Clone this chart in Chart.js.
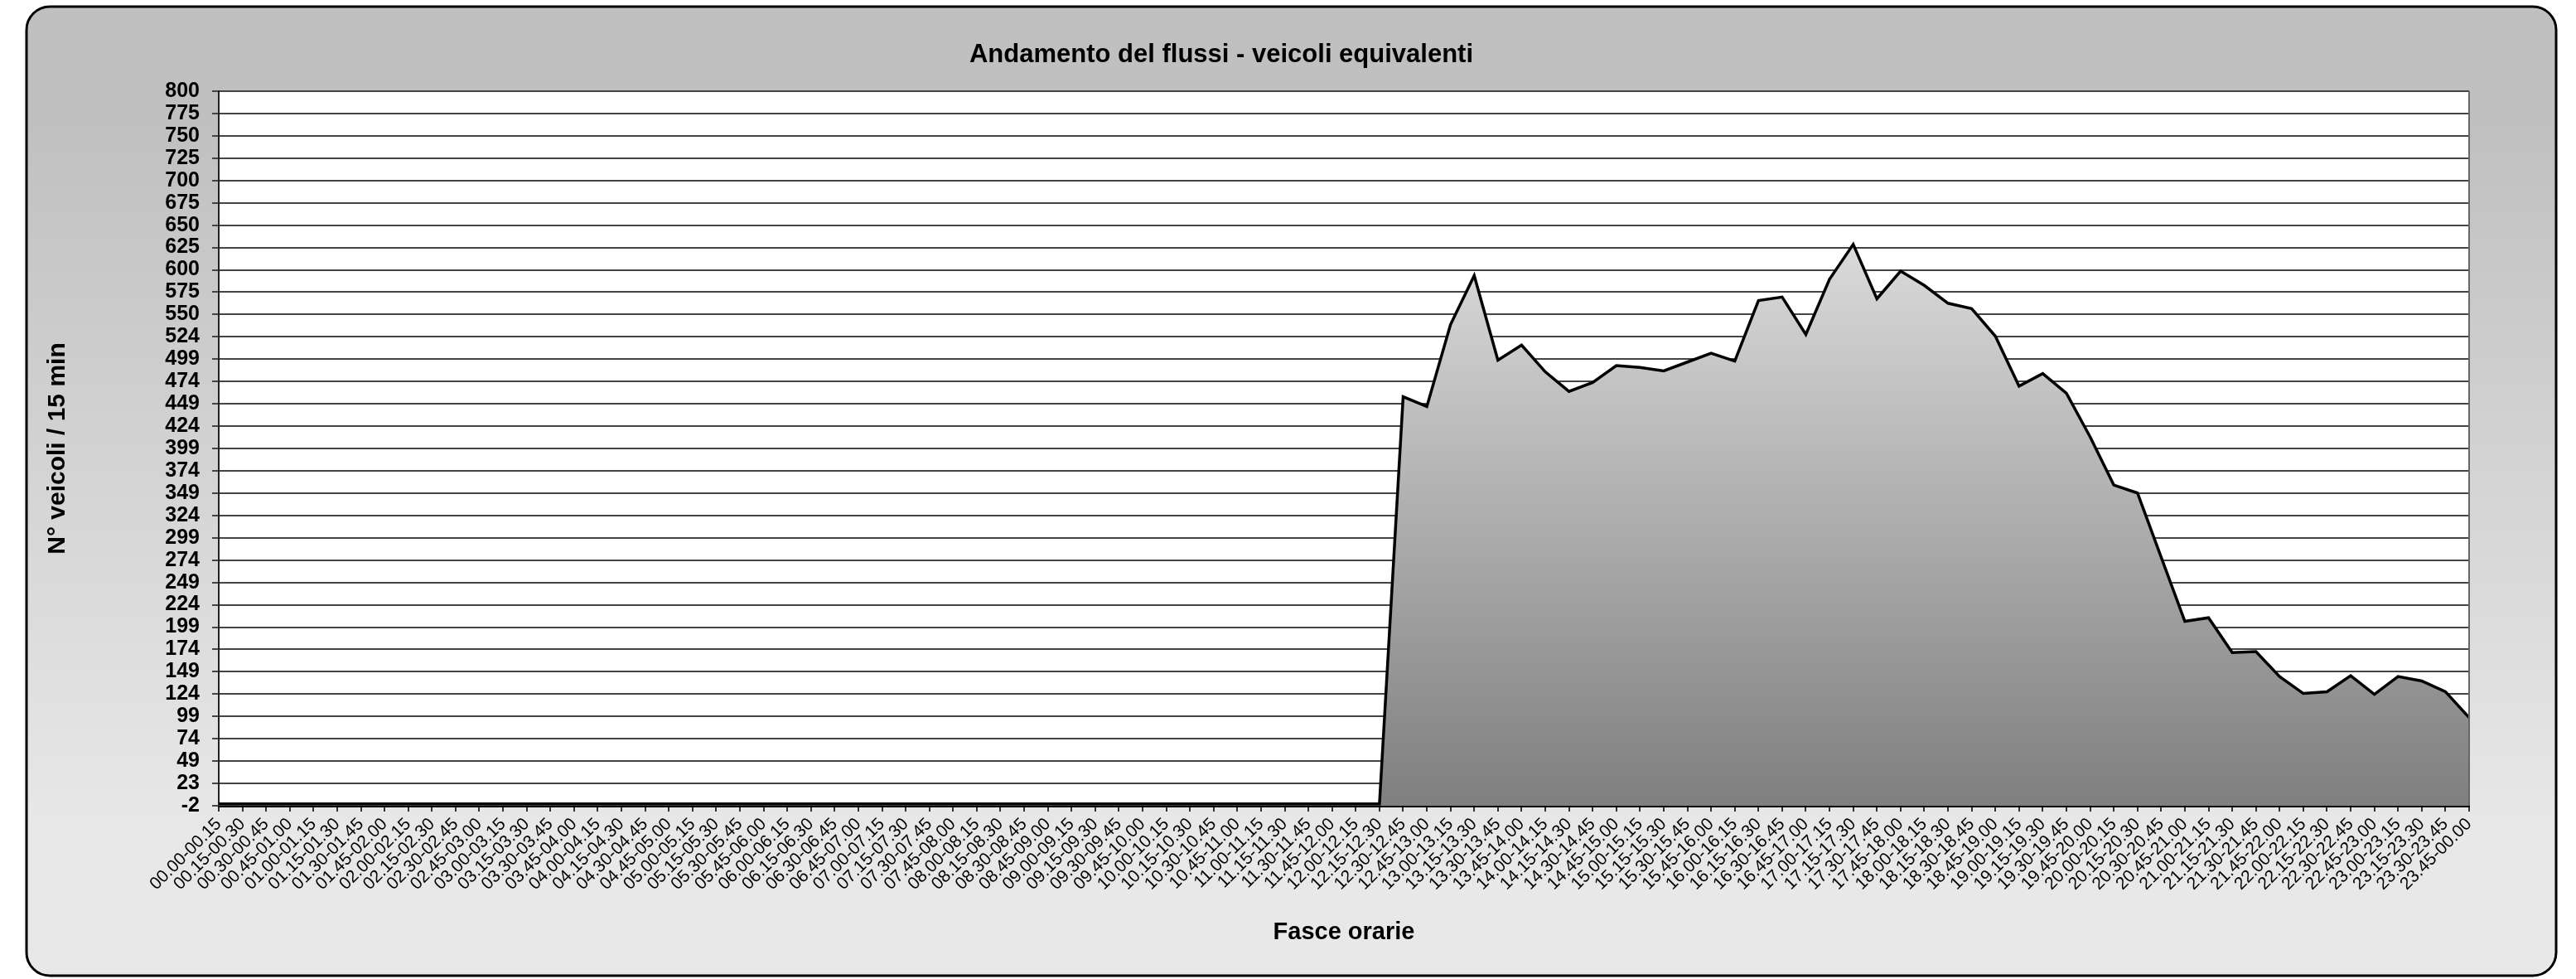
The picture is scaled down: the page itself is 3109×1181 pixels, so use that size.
<!DOCTYPE html>
<html>
<head>
<meta charset="utf-8">
<script src="https://cdn.jsdelivr.net/npm/chart.js@4.4.1/dist/chart.umd.min.js"></script>
<style>
html,body{margin:0;padding:0;background:#fff;}
canvas{display:block;}
</style>
</head>
<body>
<canvas id="c" width="3109" height="1181"></canvas>
<script>
const categories = [
"00.00-00.15","00.15-00.30","00.30-00.45","00.45-01.00","01.00-01.15","01.15-01.30","01.30-01.45","01.45-02.00",
"02.00-02.15","02.15-02.30","02.30-02.45","02.45-03.00","03.00-03.15","03.15-03.30","03.30-03.45","03.45-04.00",
"04.00-04.15","04.15-04.30","04.30-04.45","04.45-05.00","05.00-05.15","05.15-05.30","05.30-05.45","05.45-06.00",
"06.00-06.15","06.15-06.30","06.30-06.45","06.45-07.00","07.00-07.15","07.15-07.30","07.30-07.45","07.45-08.00",
"08.00-08.15","08.15-08.30","08.30-08.45","08.45-09.00","09.00-09.15","09.15-09.30","09.30-09.45","09.45-10.00",
"10.00-10.15","10.15-10.30","10.30-10.45","10.45-11.00","11.00-11.15","11.15-11.30","11.30-11.45","11.45-12.00",
"12.00-12.15","12.15-12.30","12.30-12.45","12.45-13.00","13.00-13.15","13.15-13.30","13.30-13.45","13.45-14.00",
"14.00-14.15","14.15-14.30","14.30-14.45","14.45-15.00","15.00-15.15","15.15-15.30","15.30-15.45","15.45-16.00",
"16.00-16.15","16.15-16.30","16.30-16.45","16.45-17.00","17.00-17.15","17.15-17.30","17.30-17.45","17.45-18.00",
"18.00-18.15","18.15-18.30","18.30-18.45","18.45-19.00","19.00-19.15","19.15-19.30","19.30-19.45","19.45-20.00",
"20.00-20.15","20.15-20.30","20.30-20.45","20.45-21.00","21.00-21.15","21.15-21.30","21.30-21.45","21.45-22.00",
"22.00-22.15","22.15-22.30","22.30-22.45","22.45-23.00","23.00-23.15","23.15-23.30","23.30-23.45","23.45-00.00"
];
const values = [
0,0,0,0,0,0,0,0, 0,0,0,0,0,0,0,0, 0,0,0,0,0,0,0,0, 0,0,0,0,0,0,0,0,
0,0,0,0,0,0,0,0, 0,0,0,0,0,0,0,0, 0,0,457,446,538,593,498,515,
485,463,473,492,490,486,496,506, 497,565,569,527,589,628,567,598,
582,562,556,525,469,483,461,412, 358,349,277,205,209,170,171,143,
124,126,144,123,143,138,126,97
];
const yTickLabels = ["-2","23","49","74","99","124","149","174","199","224","249","274","299","324","349","374","399","424","449","474","499","524","550","575","600","625","650","675","700","725","750","775","800"];
const yMin = -2, yMax = 800;
const titleText = "Andamento del flussi - veicoli equivalenti";
const xTitle = "Fasce orarie";
const yTitle = "N° veicoli / 15 min";

const FONT = "'Liberation Sans', Arial, sans-serif";

function roundRect(ctx, x, y, w, h, r) {
  ctx.beginPath();
  ctx.moveTo(x + r, y);
  ctx.lineTo(x + w - r, y);
  ctx.arcTo(x + w, y, x + w, y + r, r);
  ctx.lineTo(x + w, y + h - r);
  ctx.arcTo(x + w, y + h, x + w - r, y + h, r);
  ctx.lineTo(x + r, y + h);
  ctx.arcTo(x, y + h, x, y + h - r, r);
  ctx.lineTo(x, y + r);
  ctx.arcTo(x, y, x + r, y, r);
  ctx.closePath();
}

const bgPlugin = {
  id: 'bg',
  beforeDraw(chart) {
    const ctx = chart.ctx;
    const W = chart.width, H = chart.height;
    ctx.save();
    ctx.fillStyle = '#fff';
    ctx.fillRect(0, 0, W, H);
    const g = ctx.createLinearGradient(0, 8, 0, 1177);
    g.addColorStop(0, '#c0c0c0');
    g.addColorStop(0.12, '#c0c0c0');
    g.addColorStop(0.85, '#e8e8e8');
    g.addColorStop(1, '#e8e8e8');
    roundRect(ctx, 32, 8, 3053, 1169, 28);
    ctx.fillStyle = g;
    ctx.fill();
    ctx.lineWidth = 3;
    ctx.strokeStyle = '#000';
    ctx.stroke();
    const a = chart.chartArea;
    ctx.fillStyle = '#fff';
    ctx.fillRect(a.left, a.top, a.right - a.left, a.bottom - a.top);
    // chart title
    ctx.fillStyle = '#000';
    ctx.font = "bold 31px " + FONT;
    ctx.textAlign = 'center';
    ctx.textBaseline = 'middle';
    ctx.fillText(titleText, 1474, 66);
    ctx.restore();
  },
  afterDraw(chart) {
    const ctx = chart.ctx;
    const a = chart.chartArea;
    ctx.save();
    ctx.strokeStyle = '#666';
    ctx.lineWidth = 2;
    ctx.beginPath();
    ctx.moveTo(a.right, a.top);
    ctx.lineTo(a.right, a.bottom);
    ctx.stroke();
    ctx.restore();
  }
};

new Chart(document.getElementById('c'), {
  type: 'line',
  data: {
    labels: categories,
    datasets: [{
      data: values,
      borderColor: '#000',
      borderWidth: 3.5,
      pointRadius: 0,
      tension: 0,
      fill: 'start',
      backgroundColor: (context) => {
        const chart = context.chart;
        const a = chart.chartArea;
        if (!a) return '#bbbbbb';
        const top = chart.scales.y.getPixelForValue(Math.max(...values));
        const g = chart.ctx.createLinearGradient(0, top, 0, a.bottom);
        g.addColorStop(0, '#dadada');
        g.addColorStop(1, '#7f7f7f');
        return g;
      }
    }]
  },
  options: {
    responsive: false,
    animation: false,
    devicePixelRatio: 1,
    layout: { padding: { left: 0, right: 129, top: 110, bottom: 0 } },
    plugins: {
      legend: { display: false },
      tooltip: { enabled: false },
      title: { display: false }
    },
    scales: {
      x: {
        type: 'category',
        offset: false,
        grid: { drawOnChartArea: false, drawTicks: true, tickLength: 7, color: '#333', lineWidth: 2 },
        border: { display: true, color: '#000', width: 3 },
        ticks: {
          autoSkip: false, maxRotation: 45, minRotation: 45, padding: 3,
          color: '#000', font: { family: FONT, size: 21 }
        },
        title: {
          display: true, text: xTitle, color: '#000',
          font: { family: FONT, size: 29, weight: 'bold' },
          padding: { top: 0, bottom: 39 }
        },
        afterFit(scale) { scale.height = 209; }
      },
      y: {
        type: 'linear',
        min: yMin, max: yMax,
        afterBuildTicks(scale) {
          const n = yTickLabels.length - 1;
          scale.ticks = yTickLabels.map((t, i) => ({ value: yMin + i * (yMax - yMin) / n }));
        },
        grid: { drawOnChartArea: true, drawTicks: true, tickLength: 8, color: '#444', lineWidth: 2 },
        border: { display: true, color: '#222', width: 2 },
        ticks: {
          autoSkip: false,
          padding: 15, color: '#000',
          font: { family: FONT, size: 25, weight: 'bold' },
          callback: (v, i) => yTickLabels[i]
        },
        title: {
          display: true, text: yTitle, color: '#000',
          font: { family: FONT, size: 30, weight: 'bold' },
          padding: { top: 52, bottom: 0 }
        },
        afterFit(scale) { scale.width = 264; }
      }
    }
  },
  plugins: [bgPlugin]
});
</script>
</body>
</html>
